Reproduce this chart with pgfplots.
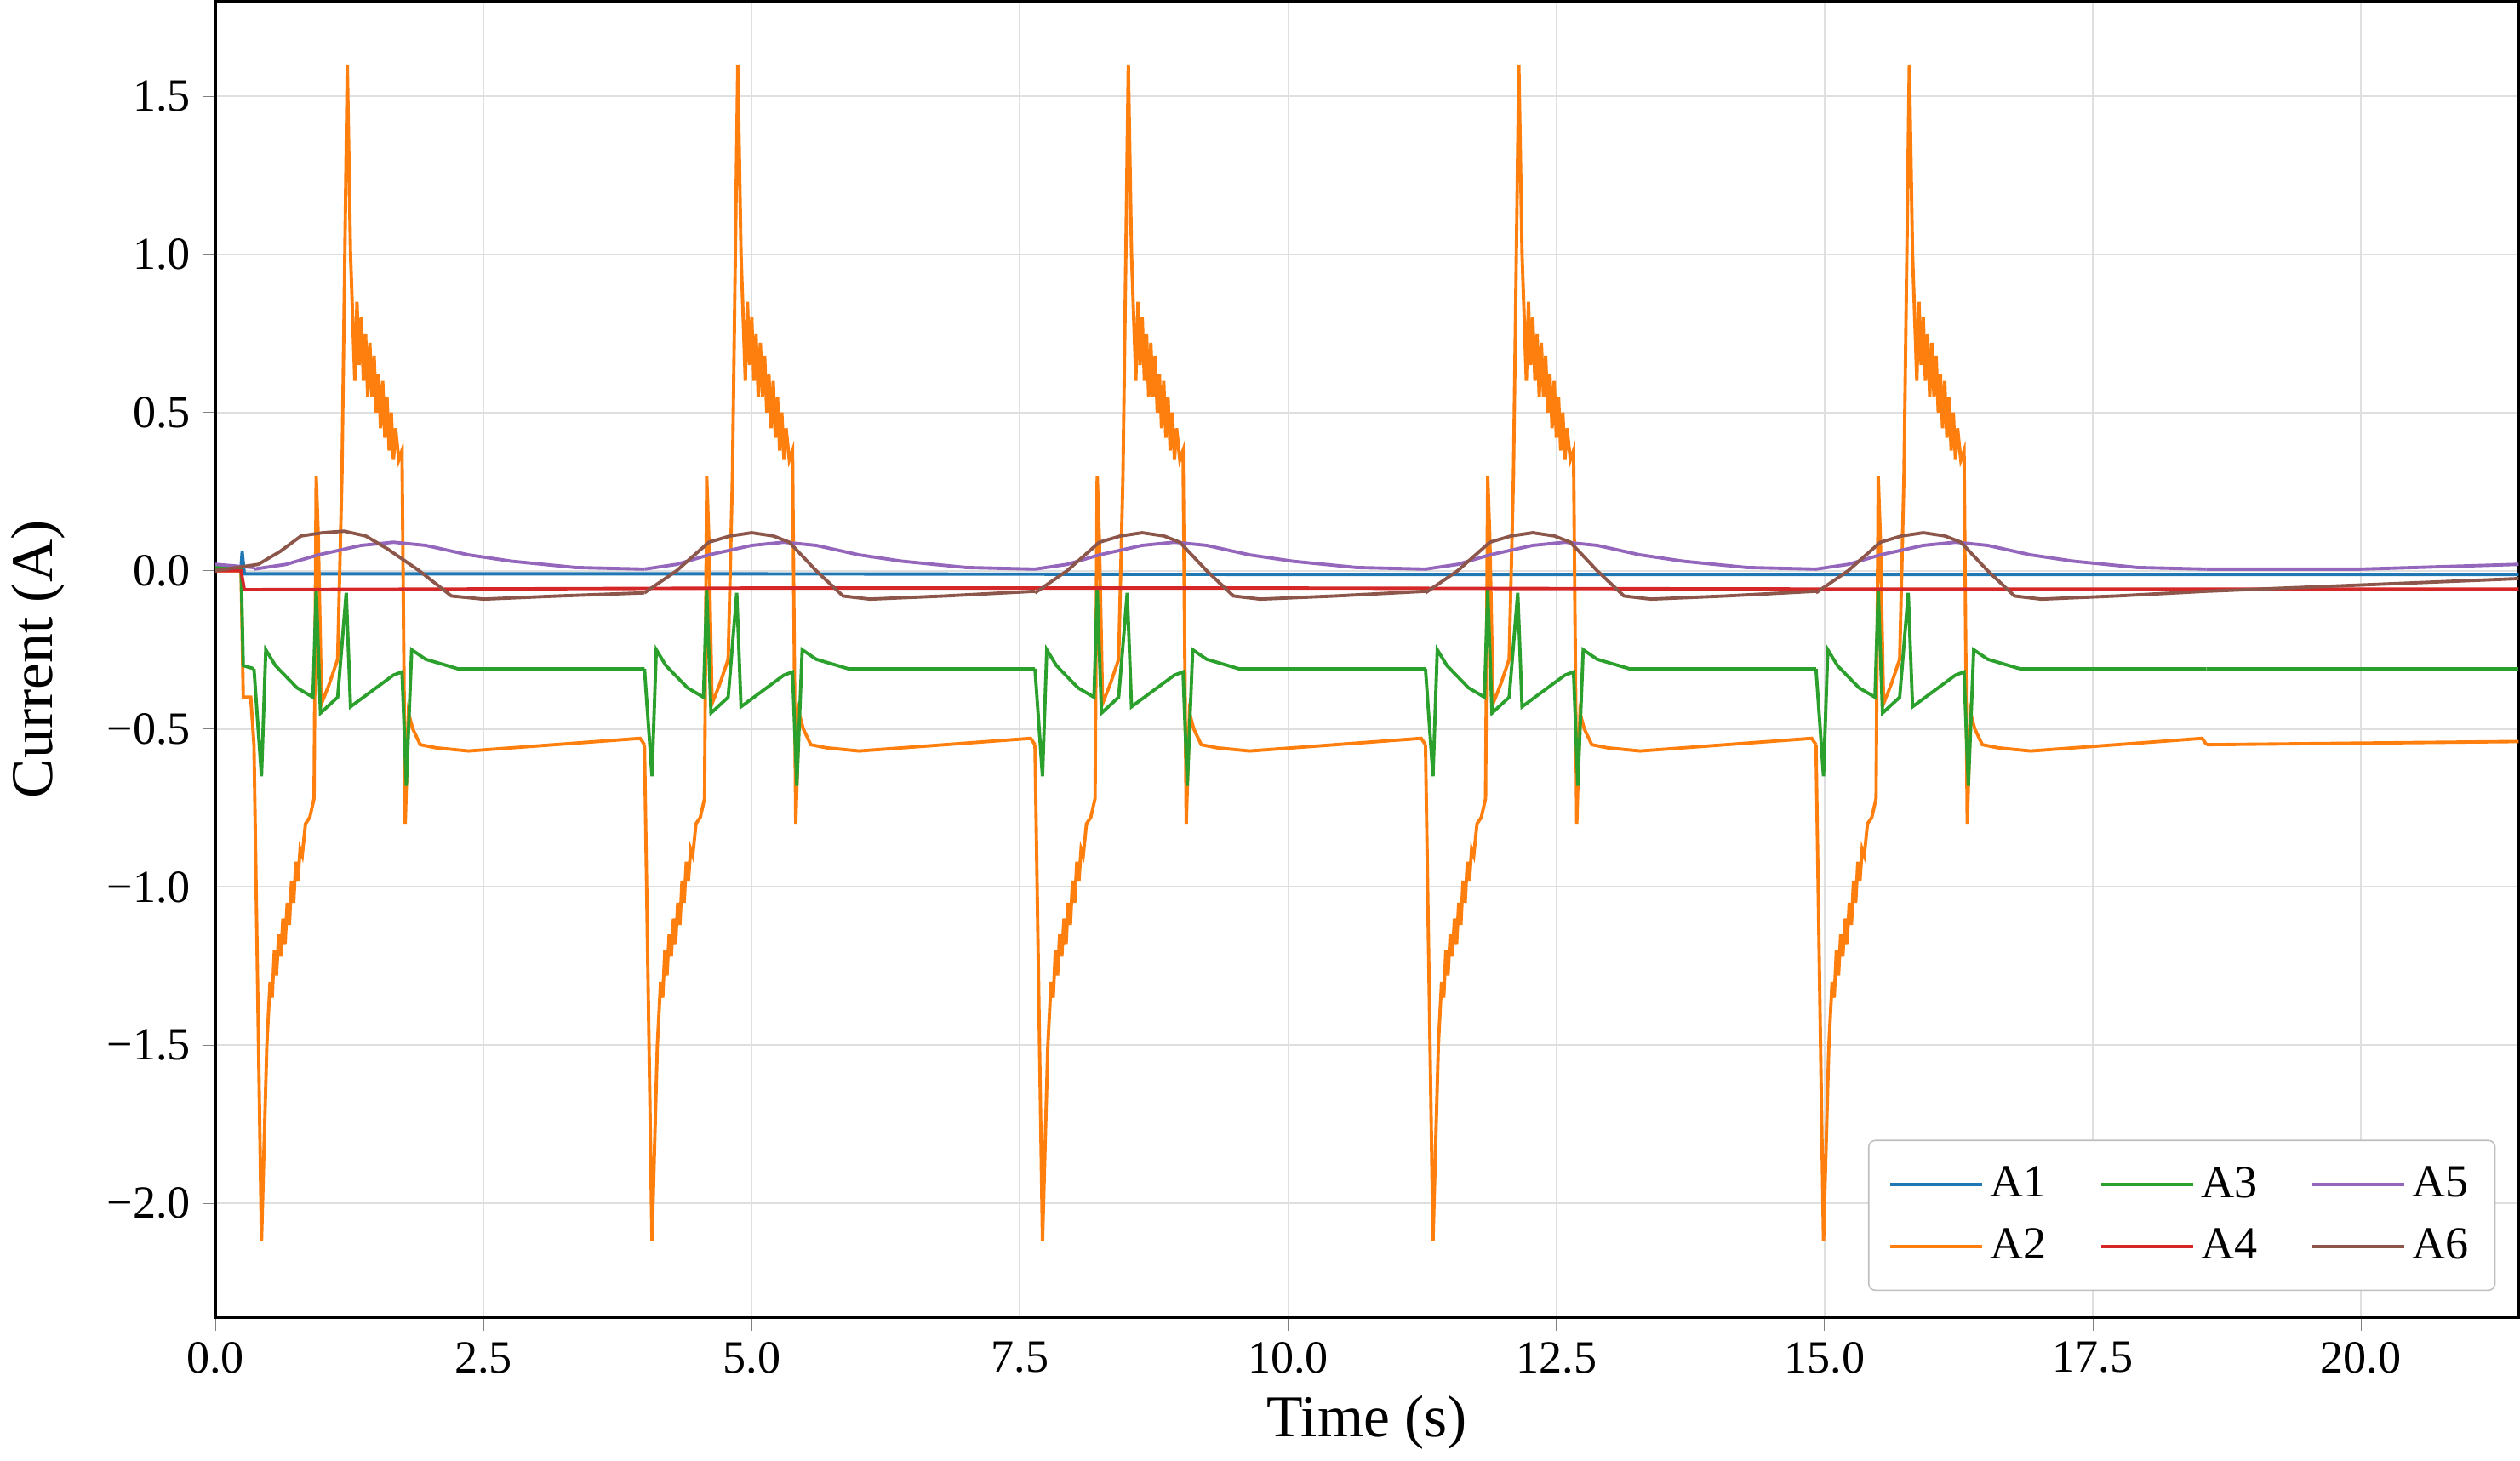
\documentclass[border=0pt]{standalone}
\usepackage{fontspec}
\setmainfont{Liberation Serif}
\usepackage{pgfplots}
\usepackage{pgfplotstable}
\pgfplotsset{compat=1.18}
\definecolor{c1}{HTML}{1F77B4}
\definecolor{c2}{HTML}{FF7F0E}
\definecolor{c3}{HTML}{2CA02C}
\definecolor{c4}{HTML}{D62728}
\definecolor{c5}{HTML}{9467BD}
\definecolor{c6}{HTML}{8C564B}
\pgfplotstableread{
r y
0.00 -0.55
0.07 -2.12
0.12 -1.5
0.15 -1.3
0.17 -1.35
0.19 -1.2
0.21 -1.28
0.23 -1.15
0.25 -1.22
0.27 -1.1
0.29 -1.18
0.31 -1.05
0.33 -1.12
0.35 -0.98
0.37 -1.05
0.39 -0.92
0.41 -0.98
0.43 -0.88
0.45 -0.9
0.48 -0.8
0.52 -0.78
0.56 -0.72
0.58 0.3
0.60 0.1
0.63 -0.42
0.70 -0.36
0.78 -0.28
0.82 0.3
0.87 1.6
0.90 1.0
0.92 0.8
0.94 0.6
0.96 0.85
0.98 0.65
1.00 0.8
1.02 0.6
1.04 0.75
1.06 0.55
1.08 0.72
1.10 0.55
1.12 0.68
1.14 0.5
1.16 0.62
1.18 0.45
1.20 0.6
1.22 0.42
1.24 0.55
1.26 0.38
1.28 0.5
1.30 0.35
1.32 0.45
1.35 0.35
1.38 0.38
1.41 -0.8
1.44 -0.45
1.48 -0.5
1.55 -0.55
1.70 -0.56
2.00 -0.57
3.60 -0.53
3.64 -0.55
}\cycA
\pgfplotstableread{
r y
0.00 -0.31
0.07 -0.65
0.11 -0.25
0.20 -0.30
0.40 -0.37
0.55 -0.40
0.58 -0.06
0.62 -0.45
0.78 -0.40
0.86 -0.07
0.90 -0.43
1.10 -0.38
1.30 -0.33
1.38 -0.32
1.42 -0.68
1.47 -0.25
1.60 -0.28
1.90 -0.31
3.64 -0.31
}\cycC
\pgfplotstableread{
r y
0.00 0.005
0.30 0.02
0.60 0.05
1.00 0.08
1.30 0.09
1.60 0.08
2.00 0.05
2.40 0.03
3.00 0.01
3.64 0.005
}\cycE
\pgfplotstableread{
r y
0.00 -0.07
0.30 0.00
0.60 0.09
0.80 0.11
1.00 0.12
1.20 0.11
1.35 0.09
1.60 0.00
1.85 -0.08
2.10 -0.09
2.80 -0.08
3.64 -0.065
}\cycF
\begin{document}
\begin{tikzpicture}
\begin{axis}[
  scale only axis, width=700pt, height=400pt,
  xmin=0, xmax=21.47, ymin=-2.36, ymax=1.8,
  xtick={0,2.5,...,20}, ytick={-2,-1.5,...,1.5},
  yticklabels={−2.0,−1.5,−1.0,−0.5,0.0,0.5,1.0,1.5},
  /pgf/number format/assume math mode=true,
  /pgf/number format/.cd, fixed, fixed zerofill, precision=1, /pgfplots/.cd,
  ticklabel style={font=\fontsize{14}{14}\selectfont},
  xlabel={Time (s)}, ylabel={Current (A)},
  label style={font=\fontsize{18}{18}\selectfont},
  ylabel style={yshift=6pt},
  tick align=outside, tick pos=left, major tick length=4pt,
  grid=major, grid style={gray!25, line width=0.5pt},
  axis line style={line width=0.8pt},
  every axis plot/.append style={line width=1pt},
  legend columns=2, transpose legend,
  legend style={at={(0.99,0.02)}, anchor=south east, rounded corners=2pt,
    draw=gray!50, font=\fontsize{14}{14}\selectfont, row sep=4pt,
    /tikz/every even column/.append style={column sep=14pt}, inner sep=6pt},
  legend cell align=left,
  legend image code/.code={\draw[#1] (0pt,0pt) -- (28pt,0pt);},
]
% A1
\addplot[c1] coordinates {(0,0.01) (0.24,0.01) (0.25,0.06) (0.27,-0.01) (5,-0.01) (10,-0.012) (15,-0.012) (21.47,-0.012)};
\addlegendentry{A1}
% A2
\addplot[c2] coordinates {(0,0.0) (0.24,0.0) (0.26,-0.4) (0.33,-0.4) (0.36,-0.55)};
\addlegendentry{A2}
\pgfplotsinvokeforeach{0.36,4.00,7.64,11.28,14.92}{
  \addplot[c2, forget plot] table[x expr=\thisrow{r}+#1, y=y]{\cycA};
}
\addplot[c2, forget plot] coordinates {(18.56,-0.55) (21.47,-0.54)};
% A3
\addplot[c3] coordinates {(0,0.01) (0.24,0.01) (0.26,-0.3) (0.36,-0.31)};
\addlegendentry{A3}
\pgfplotsinvokeforeach{0.36,4.00,7.64,11.28,14.92}{
  \addplot[c3, forget plot] table[x expr=\thisrow{r}+#1, y=y]{\cycC};
}
\addplot[c3, forget plot] coordinates {(18.56,-0.31) (21.47,-0.31)};
% A4
\addplot[c4] coordinates {(0,0.0) (0.24,0.0) (0.27,-0.06) (5,-0.055) (10,-0.055) (15,-0.058) (21.47,-0.058)};
\addlegendentry{A4}
% A5
\addplot[c5] coordinates {(0,0.02) (0.36,0.01)};
\addlegendentry{A5}
\pgfplotsinvokeforeach{0.36,4.00,7.64,11.28,14.92}{
  \addplot[c5, forget plot] table[x expr=\thisrow{r}+#1, y=y]{\cycE};
}
\addplot[c5, forget plot] coordinates {(18.56,0.005) (20,0.005) (21.47,0.02)};
% A6
\addplot[c6] coordinates {(0,0.0) (0.4,0.02) (0.6,0.06) (0.8,0.11) (1.0,0.12) (1.2,0.125) (1.4,0.11) (1.6,0.07) (1.9,0.0) (2.2,-0.08) (2.5,-0.09) (3.2,-0.08) (4.0,-0.07)};
\addlegendentry{A6}
\pgfplotsinvokeforeach{4.00,7.64,11.28,14.92}{
  \addplot[c6, forget plot] table[x expr=\thisrow{r}+#1, y=y]{\cycF};
}
\addplot[c6, forget plot] coordinates {(18.56,-0.065) (21.47,-0.025)};
\end{axis}
\end{tikzpicture}
\end{document}
